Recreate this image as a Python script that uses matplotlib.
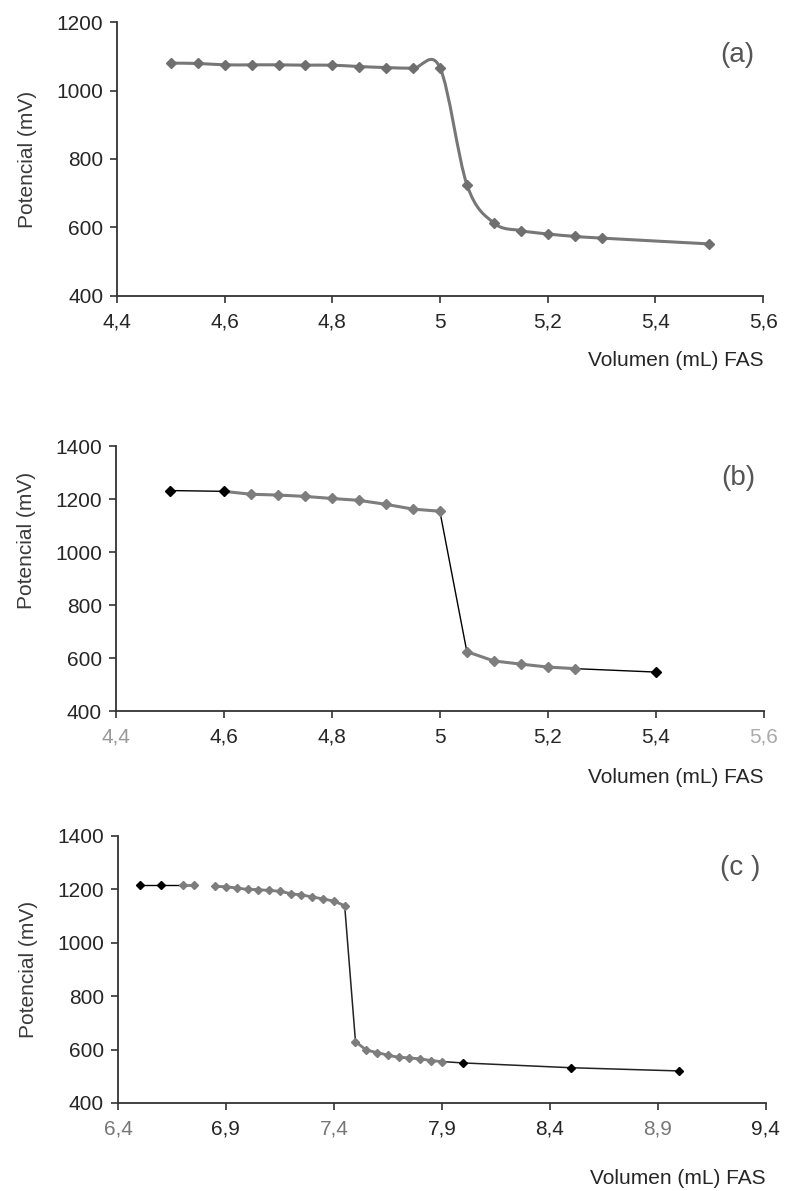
import numpy as np
import matplotlib
matplotlib.use("Agg")
import matplotlib.pyplot as plt
from matplotlib.path import Path
from matplotlib.patches import PathPatch

plt.rcParams['font.family'] = ['Liberation Sans', 'DejaVu Sans']

# (a) smoothed titration curve
xa = [4.5, 4.55, 4.6, 4.65, 4.7, 4.75, 4.8, 4.85, 4.9, 4.95, 5.0, 5.05, 5.1, 5.15, 5.2, 5.25, 5.3, 5.5]
ya = [1080, 1079, 1075, 1075, 1075, 1074, 1074, 1070, 1067, 1065, 1066, 724, 613, 591, 581, 574, 569, 552]

# (b)
xb = [4.5, 4.6, 4.65, 4.7, 4.75, 4.8, 4.85, 4.9, 4.95, 5.0, 5.05, 5.1, 5.15, 5.2, 5.25, 5.4]
yb = [1232, 1229, 1218, 1215, 1210, 1202, 1195, 1180, 1162, 1154, 624, 589, 577, 566, 560, 547]

# (c) first group, then the main run after the gap
xc1 = [6.5, 6.6, 6.7, 6.75]
yc1 = [1215, 1215, 1215, 1215]
xc2 = [6.85, 6.9, 6.95, 7.0, 7.05, 7.1, 7.15, 7.2, 7.25, 7.3, 7.35, 7.4, 7.45,
       7.5, 7.55, 7.6, 7.65, 7.7, 7.75, 7.8, 7.85, 7.9, 8.0, 8.5, 9.0]
yc2 = [1211, 1210, 1205, 1200, 1199, 1196, 1193, 1184, 1179, 1172, 1164, 1156, 1139,
       630, 598, 589, 579, 571, 569, 565, 559, 555, 550, 532, 520]

xticks_ab = [4.4, 4.6, 4.8, 5.0, 5.2, 5.4, 5.6]
xticks_c = [6.4, 6.9, 7.4, 7.9, 8.4, 8.9, 9.4]
yticks_a = [400, 600, 800, 1000, 1200]
yticks_bc = [400, 600, 800, 1000, 1200, 1400]

xlabel = "Volumen (mL) FAS"
ylabel = "Potencial (mV)"

GRAY = '#6f6f6f'
LGRAY = '#7d7d7d'
TXT = '#262626'
FS = 15


def smooth_path(x, y):
    # excel-like smoothed line: cubic bezier through the points
    p = np.column_stack([x, y]).astype(float)
    n = len(p)
    verts = [p[0]]
    codes = [Path.MOVETO]
    for i in range(n - 1):
        p0 = p[i - 1] if i > 0 else p[i]
        p3 = p[i + 2] if i + 2 < n else p[i + 1]
        c1 = p[i] + (p[i + 1] - p0) / 6.0
        c2 = p[i + 1] - (p3 - p[i]) / 6.0
        verts += [c1, c2, p[i + 1]]
        codes += [Path.CURVE4] * 3
    return Path(verts, codes)


def fmt(v):
    return f"{v:g}".replace('.', ',')


def style(ax, xt, yt, tag, ylab_y, xpad, xcolors=None):
    ax.set_xlim(xt[0], xt[-1])
    ax.set_ylim(yt[0], yt[-1])
    ax.set_xticks(xt)
    ax.set_xticklabels([fmt(v) for v in xt])
    ax.set_yticks(yt)
    ax.set_yticklabels([fmt(v) for v in yt])
    for s in ['top', 'right']:
        ax.spines[s].set_visible(False)
    for s in ['left', 'bottom']:
        ax.spines[s].set_color('#333333')
        ax.spines[s].set_linewidth(1.3)
    ax.tick_params(axis='both', direction='out', length=5, width=1.2,
                   color='#333333', labelsize=FS, labelcolor=TXT)
    ax.tick_params(axis='x', pad=7)
    ax.tick_params(axis='y', pad=5)
    if xcolors:
        for lab, c in zip(ax.get_xticklabels(), xcolors):
            lab.set_color(c)
    ax.set_ylabel(ylabel, fontsize=FS, color='#3a3a3a')
    ax.yaxis.set_label_coords(-0.124, ylab_y)
    ax.set_xlabel(xlabel, fontsize=FS, color=TXT, loc='right', labelpad=xpad)
    ax.text(0.96, 0.88, tag, transform=ax.transAxes, fontsize=20,
            color='#555555', ha='center', va='center')


fig = plt.figure(figsize=(7.88, 11.91), dpi=100)
ax_a = fig.add_axes([0.1485, 0.7515, 0.820, 0.230])
ax_b = fig.add_axes([0.1472, 0.4030, 0.822, 0.2225])
ax_c = fig.add_axes([0.1497, 0.0739, 0.822, 0.2242])

# panel (a)
ax_a.add_patch(PathPatch(smooth_path(xa, ya), fill=False, edgecolor='#777777', lw=2.2))
ax_a.plot(xa, ya, linestyle='none', marker='D', ms=5.2, color=GRAY)
style(ax_a, xticks_ab, yticks_a, "(a)", 0.5, 14)

# panel (b)
ax_b.plot(xb, yb, color='black', lw=1.0)
ax_b.plot(xb[1:10], yb[1:10], color=LGRAY, lw=2.2)
ax_b.plot(xb[10:15], yb[10:15], color=LGRAY, lw=2.2)
ax_b.plot(xb[2:15], yb[2:15], linestyle='none', marker='D', ms=4.8, color=LGRAY)
ax_b.plot([xb[i] for i in (0, 1, 15)], [yb[i] for i in (0, 1, 15)],
          linestyle='none', marker='D', ms=4.8, color='black')
style(ax_b, xticks_ab, yticks_bc, "(b)", 0.645, 15,
      xcolors=['#999999', TXT, TXT, TXT, TXT, TXT, '#aaaaaa'])

# panel (c)
ax_c.plot(xc1[:3], yc1[:3], color='black', lw=1.0)
ax_c.plot(xc1[2:], yc1[2:], color=LGRAY, lw=2.0)
ax_c.plot(xc2, yc2, color='#222222', lw=1.1)
ax_c.plot(xc2[:13], yc2[:13], color=LGRAY, lw=2.0)
ax_c.plot(xc2[13:22], yc2[13:22], color=LGRAY, lw=2.0)
ax_c.plot(xc1[2:] + xc2[:22], yc1[2:] + yc2[:22], linestyle='none', marker='D',
          ms=4.5, color=LGRAY)
ax_c.plot(xc1[:2] + xc2[22:], yc1[:2] + yc2[22:], linestyle='none', marker='D',
          ms=4.5, color='black')
style(ax_c, xticks_c, yticks_bc, "(c )", 0.5, 22,
      xcolors=['#777777', TXT, '#777777', TXT, TXT, '#777777', TXT])

fig.savefig('out.png', dpi=100)
